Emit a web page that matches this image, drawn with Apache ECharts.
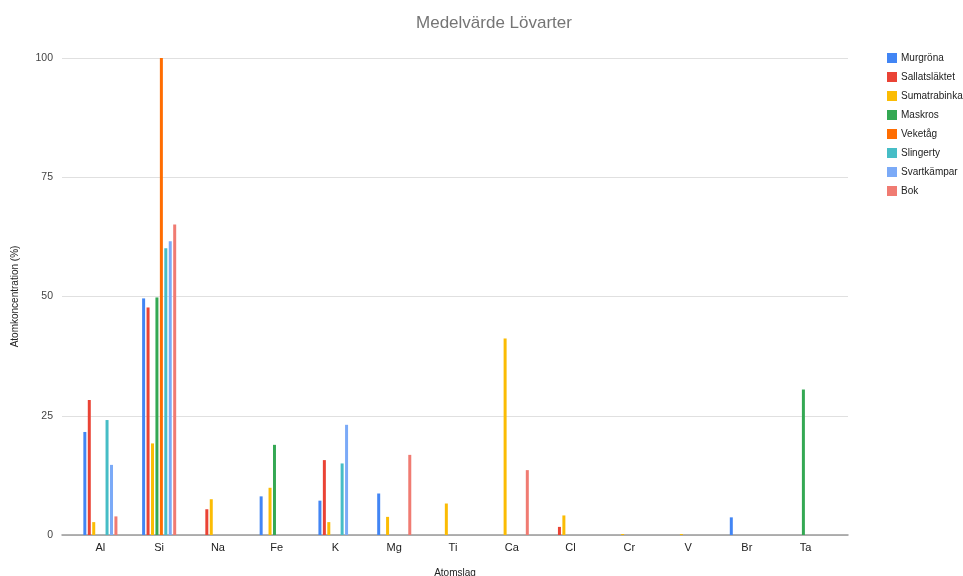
<!DOCTYPE html>
<html>
<head>
<meta charset="utf-8">
<script src="https://cdn.jsdelivr.net/npm/echarts@6/dist/echarts.min.js"></script>
<style>html,body{margin:0;padding:0;background:#fff}#c{width:963px;height:576px}</style>
</head>
<body>
<div id="c"></div>
<script>
const categories = ['Al','Si','Na','Fe','K','Mg','Ti','Ca','Cl','Cr','V','Br','Ta'];
const seriesNames = ['Murgröna','Sallatsläktet','Sumatrabinka','Maskros','Veketåg','Slingerty','Svartkämpar','Bok'];
const murgrona     = [21.6, 49.6, 0, 8.1, 7.2, 8.7, 0, 0, 0, 0, 0, 3.7, 0];
const sallat       = [28.3, 47.7, 5.4, 0, 15.7, 0, 0, 0, 1.7, 0, 0, 0, 0];
const sumatra      = [2.7, 19.2, 7.5, 9.9, 2.7, 3.8, 6.6, 41.2, 4.1, 0.2, 0.2, 0, 0];
const maskros      = [0, 49.8, 0, 18.9, 0, 0, 0, 0, 0, 0, 0, 0, 30.5];
const veketag      = [0, 100, 0, 0, 0, 0, 0, 0, 0, 0, 0, 0, 0];
const slingerty    = [24.1, 60.1, 0, 0, 15.0, 0, 0, 0, 0, 0, 0, 0, 0];
const svartkampar  = [14.7, 61.6, 0, 0, 23.1, 0, 0, 0, 0, 0, 0, 0, 0];
const bok          = [3.9, 65.1, 0, 0, 0, 16.8, 0, 13.6, 0, 0, 0, 0, 0];
const yTicks = [0, 25, 50, 75, 100];
const colors = ['#4285f4','#ea4335','#fbbc04','#34a853','#ff6d01','#46bdc6','#7baaf7','#f07b72'];

const allValues = [murgrona, sallat, sumatra, maskros, veketag, slingerty, svartkampar, bok];
const fontFam = 'Arial, "Liberation Sans", sans-serif';

const chart = echarts.init(document.getElementById('c'), null, {renderer:'canvas'});
chart.setOption({
  animation: false,
  color: colors,
  title: {
    text: 'Medelvärde Lövarter',
    left: 489, top: 10, textAlign: 'center',
    textStyle: {fontSize: 17, fontWeight: 'normal', color: '#757575', fontFamily: fontFam}
  },
  legend: {
    orient: 'vertical', left: 882, top: 48,
    itemWidth: 10, itemHeight: 10, itemGap: 9,
    icon: 'rect',
    textStyle: {fontSize: 10, color: '#222', fontFamily: fontFam, padding: [0,0,0,-1]},
    data: seriesNames
  },
  grid: [
    {left: 71, right: 128, top: 58, bottom: 41, outerBoundsMode: 'none', containLabel: false},
    {left: 62, right: 115, top: 58, bottom: 41, outerBoundsMode: 'none', containLabel: false}
  ],
  xAxis: [
    {
      gridIndex: 0, type: 'category', data: categories,
      axisLine: {show: false}, axisTick: {show: false},
      axisLabel: {fontSize: 11, color: '#222', margin: 7, fontFamily: fontFam}
    },
    {
      gridIndex: 1, type: 'value', min: 0, max: 1, show: true,
      name: 'Atomslag', nameLocation: 'middle', nameGap: 33,
      nameTextStyle: {fontSize: 10, color: '#222', fontFamily: fontFam},
      axisLine: {show: true, lineStyle: {color: '#999', width: 1.5}},
      axisTick: {show: false}, axisLabel: {show: false}, splitLine: {show: false}
    }
  ],
  yAxis: [
    {
      gridIndex: 0, type: 'value', min: 0, max: 100, interval: 25, show: false
    },
    {
      gridIndex: 1, type: 'value', min: yTicks[0], max: yTicks[yTicks.length-1], interval: 25,
      name: 'Atomkoncentration (%)', nameLocation: 'middle', nameGap: 42,
      nameTextStyle: {fontSize: 10, color: '#222', fontFamily: fontFam},
      axisLine: {show: false}, axisTick: {show: false},
      axisLabel: {fontSize: 10.5, color: '#444', margin: 9, fontFamily: fontFam},
      splitLine: {lineStyle: {color: '#e0e0e0', width: 1}}
    }
  ],
  series: seriesNames.map((n, i) => ({
    name: n, type: 'bar', xAxisIndex: 0, yAxisIndex: 0,
    data: allValues[i],
    barWidth: 3, barGap: '48%', barCategoryGap: '42%',
    itemStyle: {color: colors[i]}
  }))
});
</script>
</body>
</html>
